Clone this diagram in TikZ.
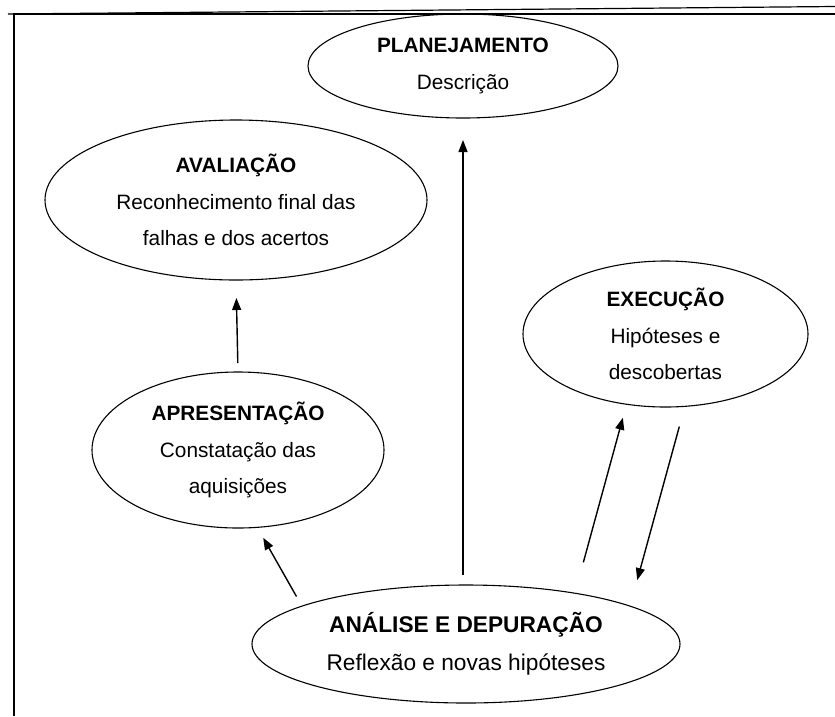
\documentclass[tikz,border=0pt]{standalone}
\usepackage{fontspec}
\setmainfont{Liberation Sans}
\usetikzlibrary{shapes.geometric,arrows.meta}

\begin{document}
\begin{tikzpicture}[x=1pt,y=-1pt,
    etapa/.style={ellipse,draw,line width=1.1pt,inner sep=0pt,outer sep=0pt,align=center,
      font=\fontsize{20.8}{36.5}\selectfont},
    seta/.style={line width=1.4pt,-{Triangle[length=12pt,width=9pt]}}]
  \useasboundingbox (0,0) rectangle (835,716);

  % Frame: only the top and left rules are shown.
  \draw[line width=2pt] (13.5,716) -- (13.5,13.5) -- (835,13.5);
  \draw[line width=1.2pt] (8,14) -- (835,6.5);

  % Stages of the cycle.
  \node[etapa,minimum width=310pt,minimum height=104pt] (plan) at (463,66)
    {\textbf{PLANEJAMENTO}\\Descrição};
  \node[etapa,minimum width=382pt,minimum height=160pt] (aval) at (236,200)
    {\textbf{AVALIAÇÃO}\\Reconhecimento final das\\falhas e dos acertos};
  \node[etapa,minimum width=285pt,minimum height=146pt] (exec) at (665.5,334)
    {\textbf{EXECUÇÃO}\\Hipóteses e\\descobertas};
  \node[etapa,minimum width=292pt,minimum height=156pt] (apres) at (238,450)
    {\textbf{APRESENTAÇÃO}\\Constatação das\\aquisições};
  \node[etapa,minimum width=428pt,minimum height=118pt,
        font=\fontsize{22.7}{38}\selectfont] (ana) at (466,644)
    {\textbf{ANÁLISE E DEPURAÇÃO}\\Reflexão e novas hipóteses};

  % Arrows (they stop short of the ellipses).
  \draw[seta,shorten <=10pt,shorten >=22pt] (ana.north -| plan.south) -- (plan.south);
  \draw[seta,shorten <=9pt,shorten >=18pt] (apres.north) -- (aval.south);
  \draw[seta,shorten <=11pt,shorten >=12pt] (ana.167.3) -- (apres.-76);
  \draw[seta,shorten <=32pt,shorten >=14pt] (ana.25.2) -- (exec.-119.6);
  \draw[seta,shorten <=21pt,shorten >=27pt] (exec.-75.7) -- (ana.13.7);
\end{tikzpicture}
\end{document}
